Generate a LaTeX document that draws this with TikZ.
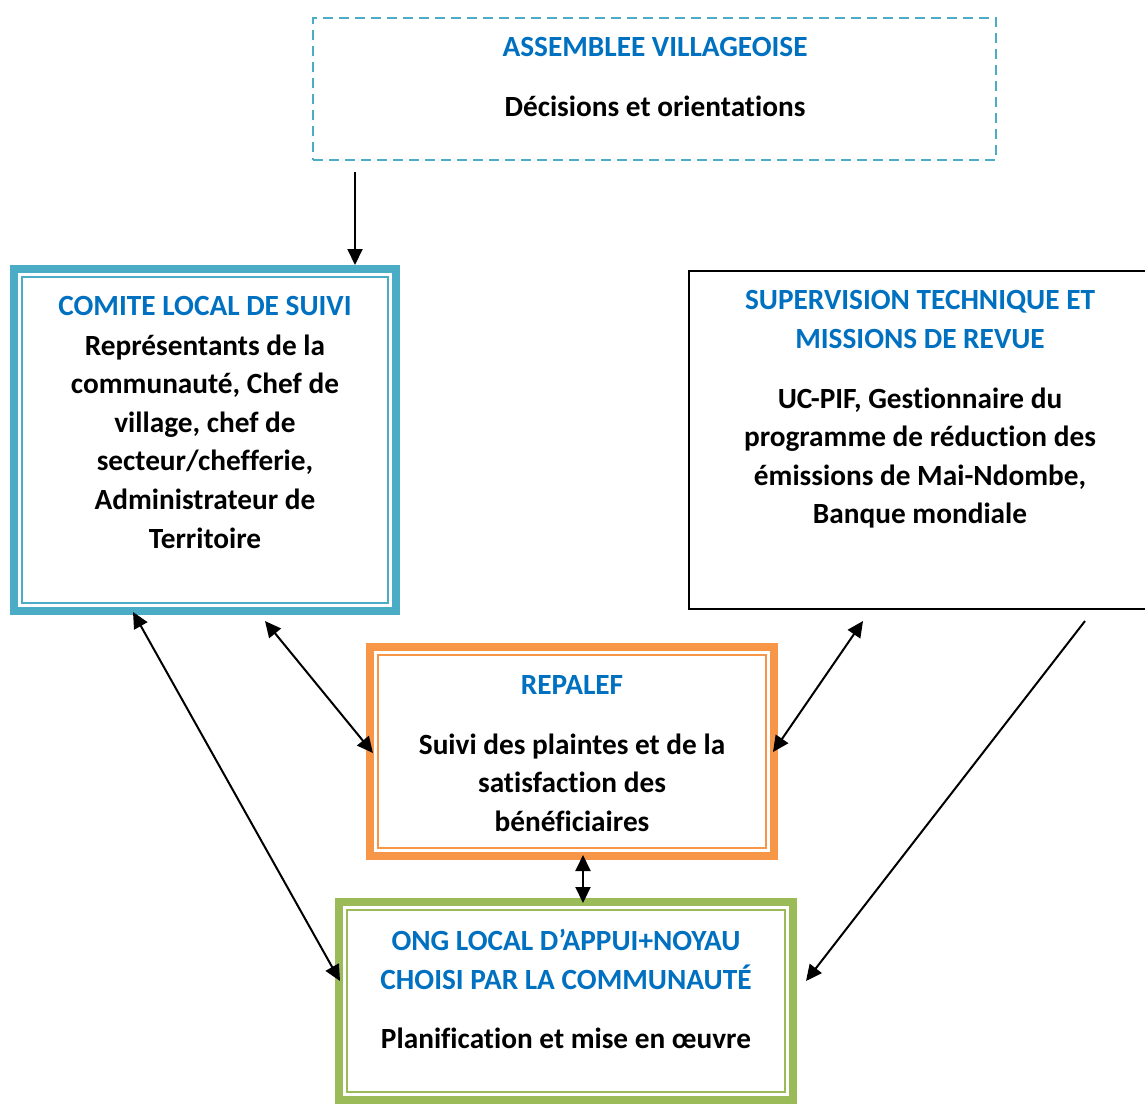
\documentclass[tikz,border=0pt]{standalone}
\usepackage{fontspec}
\setmainfont{Carlito}[Ligatures=NoCommon]
\usetikzlibrary{arrows.meta}
\definecolor{tealB}{HTML}{4BACC6}
\definecolor{blueT}{HTML}{0070C0}
\definecolor{orangeB}{HTML}{F79646}
\definecolor{greenB}{HTML}{9BBB59}
\tikzset{
  txt/.style={font=\bfseries\fontsize{29.3}{38.6}\selectfont, align=center, inner sep=0pt},
  ttl/.style={txt, text=blueT},
  thickbox/.style={draw=#1, line width=8pt, inner sep=0pt, outer sep=0pt},
  thinline/.style={draw=#1, line width=2.5pt},
  arr/.style={line width=2pt, -{Triangle[length=16pt,width=15pt]}},
  darr/.style={line width=2pt, {Triangle[length=16pt,width=15pt]}-{Triangle[length=16pt,width=15pt]}}
}
\begin{document}
\begin{tikzpicture}[x=1pt,y=-1pt]
\useasboundingbox (0,0) rectangle (1145,1104);
\clip (0,0) rectangle (1145,1104);
\fill[white] (0,0) rectangle (1145,1104);

% Assemblee
\node[draw=tealB, line width=2.3pt, dash pattern=on 10pt off 6pt, minimum width=683pt, minimum height=142pt, inner sep=0pt] (ass) at (654.5,89) {};
\node[ttl] (assT) at (655,47) {ASSEMBLEE VILLAGEOISE};
\node[txt] (assB) at (655,106) {Décisions et orientations};

% Comite
\node[thickbox=tealB, minimum width=382pt, minimum height=342pt] (com) at (205,440) {};
\draw[thinline=tealB] ([xshift=8pt,yshift=-8pt]com.north west) rectangle ([xshift=-8pt,yshift=8pt]com.south east);
\node[ttl] (comT) at (205,306) {COMITE LOCAL DE SUIVI};
\node[txt] (comB) at (205,441.5) {Représentants de la\\communauté, Chef de\\village, chef de\\secteur/chefferie,\\Administrateur de\\Territoire};

% Supervision
\node[draw, line width=2pt, minimum width=461pt, minimum height=338pt, inner sep=0pt] (sup) at (919.5,440) {};
\node[ttl] (supT) at (920,319.5) {SUPERVISION TECHNIQUE ET\\MISSIONS DE REVUE};
\node[txt] (supB) at (920,458) {UC-PIF, Gestionnaire du\\programme de réduction des\\émissions de Mai-Ndombe,\\Banque mondiale};

% REPALEF
\node[thickbox=orangeB, minimum width=404pt, minimum height=209pt] (rep) at (572,751.5) {};
\draw[thinline=orangeB] ([xshift=8pt,yshift=-8pt]rep.north west) rectangle ([xshift=-8pt,yshift=8pt]rep.south east);
\node[ttl] (repT) at (572,685) {REPALEF};
\node[txt] (repB) at (572,782.5) {Suivi des plaintes et de la\\satisfaction des\\bénéficiaires};

% ONG
\node[thickbox=greenB, minimum width=454pt, minimum height=198pt] (ong) at (566,1001) {};
\draw[thinline=greenB] ([xshift=8pt,yshift=-8pt]ong.north west) rectangle ([xshift=-8pt,yshift=8pt]ong.south east);
\node[ttl] (ongT) at (566,959.5) {ONG LOCAL D’APPUI+NOYAU\\CHOISI PAR LA COMMUNAUTÉ};
\node[txt] (ongB) at (566,1038) {Planification et mise en œuvre};

% connector end points
\coordinate (a1) at (355,172);
\coordinate (a2) at (355,265);
\coordinate (c1) at (265,621);
\coordinate (r1) at (373,753);
\coordinate (c2) at (133,612);
\coordinate (o1) at (340,981);
\coordinate (s1) at (863,621);
\coordinate (r2) at (773,752);
\coordinate (s2) at (1085,621);
\coordinate (o2) at (806,981);
\coordinate (r3) at (583,855);
\coordinate (o3) at (583,903);

\draw[arr] (a1) -- (a2);
\draw[darr] (c1) -- (r1);
\draw[darr] (c2) -- (o1);
\draw[darr] (s1) -- (r2);
\draw[arr] (s2) -- (o2);
\draw[darr] (r3) -- (o3);
\end{tikzpicture}
\end{document}
